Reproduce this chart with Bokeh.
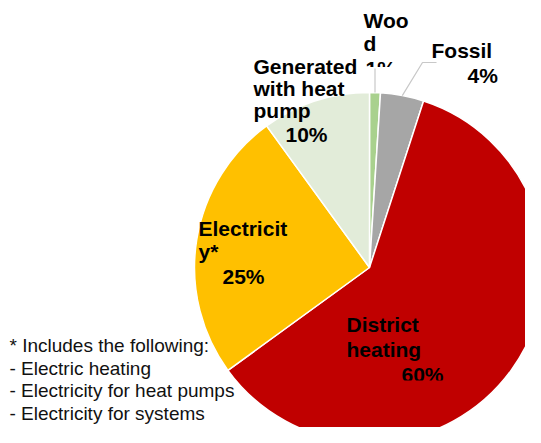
import numpy as np
from bokeh.plotting import figure
from bokeh.models import Range1d
from bokeh.embed import file_html
from bokeh.resources import INLINE
from bokeh.core.properties import value

# ---------------- data ----------------
categories = ["Wood", "Fossil", "District heating", "Electricity*", "Generated with heat pump"]
shares = [1, 4, 60, 25, 10]
slice_colors = ["#a9d18e", "#a6a6a6", "#c00000", "#ffc000", "#e2ecd9"]
label_names = [["Woo", "d"], ["Fossil"], ["District", "heating"], ["Electricit", "y*"],
               ["Generated", "with heat", "pump"]]
note_lines = ["* Includes the following:", "- Electric heating",
              "- Electricity for heat pumps", "- Electricity for systems"]

# ---------------- layout (reference pixel space) ----------------
W, H = 525, 427


def Y(py):
    return H - py


BOLD_SHIFT = 8   # renderer baseline correction (px)
NOTE_SHIFT = 7

CX, CY, R = 369, 267, 175
# name lines: (x, first baseline, line step); percentage position (x, baseline)
name_pos = [(363, 28, 23), (431, 58, 0), (346, 332, 25), (198, 236, 23), (253, 74, 22)]
pct_pos = [(365, 76), (467, 83), (401, 382), (222, 284), (285, 142)]
FONT = "Liberation Sans"

p = figure(width=W, height=H, output_backend="svg", toolbar_location=None,
           x_range=Range1d(0, W), y_range=Range1d(0, H), min_border=0)
p.axis.visible = False
p.grid.visible = False
p.outline_line_color = None
p.background_fill_color = "white"
p.border_fill_color = "white"

cum = np.concatenate([[0], np.cumsum(shares)]) / 100.0
starts = np.pi / 2 - 2 * np.pi * cum[:-1]
ends = np.pi / 2 - 2 * np.pi * cum[1:]
p.wedge(x=[CX] * len(shares), y=[Y(CY)] * len(shares), radius=R,
        start_angle=list(starts), end_angle=list(ends), direction="clock",
        fill_color=slice_colors, line_color="white", line_width=1.5)

# labels
for i, names in enumerate(name_pos):
    x0, b0, step = names
    xs = [x0] * len(label_names[i])
    ys = [Y(b0 + k * step - BOLD_SHIFT) for k in range(len(label_names[i]))]
    p.text(x=xs, y=ys, text=label_names[i], text_font=value(FONT),
           text_font_style="bold", text_font_size="21px", text_color="black",
           text_align="left", text_baseline="alphabetic")
    px, pb = pct_pos[i]
    p.text(x=[px], y=[Y(pb - BOLD_SHIFT)], text=[f"{shares[i]}%"], text_font=value(FONT),
           text_font_style="bold", text_font_size="21px", text_color="black",
           text_align="left", text_baseline="alphabetic")

# partially hidden labels (as in the reference)
p.quad(left=[361], right=[396], top=[Y(66.5)], bottom=[Y(82)],
       fill_color="white", line_color=None)
p.quad(left=[398], right=[446], top=[Y(380)], bottom=[Y(388)],
       fill_color=slice_colors[2], line_color=None)

# leader lines
mid = np.pi / 2 - 2 * np.pi * (cum[:-1] + cum[1:]) / 2
wx, wy = CX + R * np.cos(mid[0]), Y(CY) + R * np.sin(mid[0])
p.line(x=[wx, wx], y=[wy, Y(68)], line_color="#c8c8c8", line_width=1.2)
fx, fy = CX + R * np.cos(mid[1]), Y(CY) + R * np.sin(mid[1])
p.line(x=[fx, 422, 436], y=[fy, Y(62), Y(62)], line_color="#c8c8c8", line_width=1.2)

# footnote
p.text(x=[9] * len(note_lines),
       y=[Y(352 + 22.7 * k - NOTE_SHIFT) for k in range(len(note_lines))],
       text=note_lines, text_font=value(FONT), text_font_size="19px",
       text_color="#111111", text_align="left", text_baseline="alphabetic")

open("out.html", "w").write(file_html(p, INLINE))
